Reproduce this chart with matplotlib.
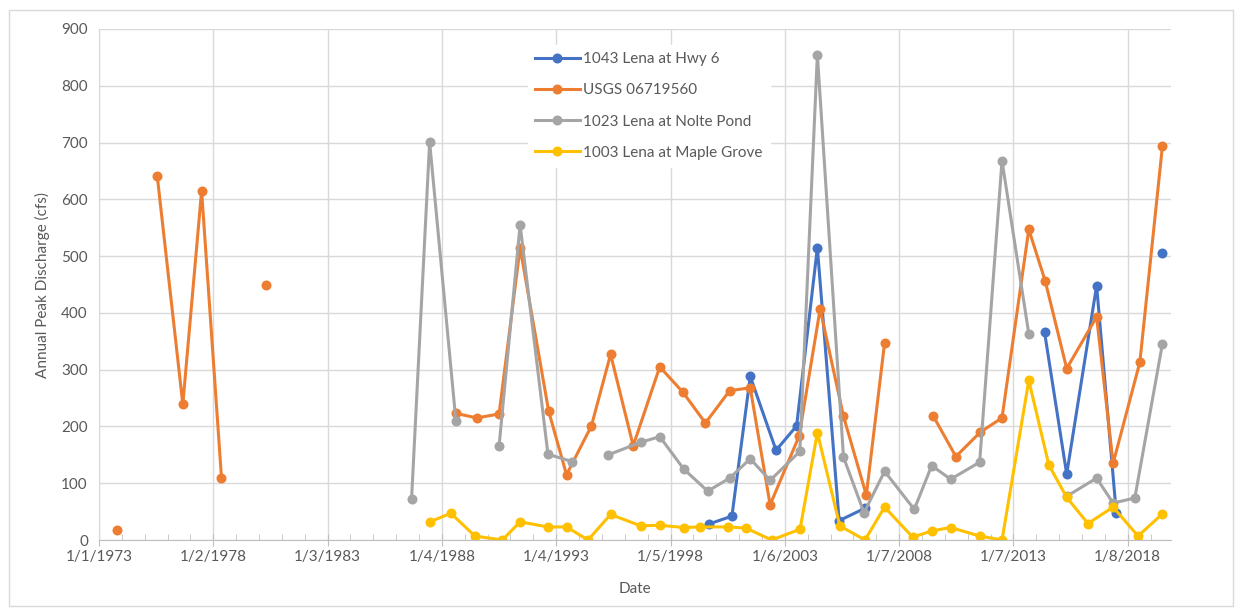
import numpy as np
import matplotlib
matplotlib.use("Agg")
import matplotlib.pyplot as plt
from matplotlib.patches import Rectangle
from datetime import datetime, timedelta

# decimal year of each annual peak, None = break in the line
hwy6_year = [1999.68, 2000.70, 2001.50, 2002.63, 2003.53, 2004.44, 2005.39, 2006.52, None,
             2014.38, 2015.35, 2016.66, 2017.52, None, 2019.54]
hwy6_cfs = [28, 42, 288, 158, 201, 515, 34, 56, None,
            366, 116, 448, 47, None, 506]

usgs_year = [1973.77, None, 1975.55, 1976.67, 1977.49, 1978.36, None, 1980.32, None,
             1988.62, 1989.54, 1990.51, 1991.43, 1992.68, 1993.46, 1994.55, 1995.39,
             1996.38, 1997.54, 1998.56, 1999.54, 2000.60, 2001.50, 2002.37, 2003.64,
             2004.56, 2005.58, 2006.58, 2007.38, None,
             2009.50, 2010.50, 2011.57, 2012.52, 2013.69, 2014.41, 2015.35, 2016.66,
             2017.38, 2018.55, 2019.54]
usgs_cfs = [17, None, 641, 239, 615, 110, None, 450, None,
            223, 215, 222, 515, 227, 115, 201, 327,
            166, 305, 260, 206, 263, 268, 62, 183,
            407, 218, 79, 347, None,
            219, 147, 190, 215, 547, 456, 302, 393,
            135, 313, 694]

nolte_year = [1986.68, 1987.47, 1988.62, None,
              1990.51, 1991.43, 1992.65, 1993.72, None,
              1995.29, 1996.70, 1997.54, 1998.59, 1999.64, 2000.60, 2001.50, 2002.37,
              2003.67, 2004.44, 2005.58, 2006.48, 2007.38, 2008.68, 2009.44, 2010.27,
              2011.54, 2012.52, 2013.69, None,
              2015.35, 2016.66, 2017.38, 2018.33, 2019.54]
nolte_cfs = [73, 701, 210, None,
             166, 555, 151, 138, None,
             150, 172, 182, 125, 86, 109, 143, 105,
             156, 855, 146, 48, 121, 54, 131, 107,
             137, 668, 363, None,
             77, 109, 65, 74, 346]

maple_year = [1987.47, 1988.40, 1989.45, 1990.65, 1991.43, 1992.65, 1993.46, 1994.40,
              1995.39, 1996.70, 1997.54, 1998.59, 1999.32, 2000.52, 2001.31, 2002.44,
              2003.68, 2004.44, 2005.42, 2006.52, 2007.38, 2008.61, 2009.44, 2010.27,
              2011.54, 2012.52, 2013.69, 2014.57, 2015.35, 2016.28, 2017.38, 2018.47,
              2019.54]
maple_cfs = [32, 47, 7, 0, 32, 23, 23, 0,
             45, 25, 26, 22, 23, 23, 21, 0,
             19, 189, 25, 0, 58, 5, 16, 22,
             7, 0, 281, 132, 75, 29, 58, 7,
             46]

series_names = ["1043 Lena at Hwy 6", "USGS 06719560",
                "1023 Lena at Nolte Pond", "1003 Lena at Maple Grove"]
colors = ["#4472C4", "#ED7D31", "#A5A5A5", "#FFC000"]


def to_date(y):
    return datetime(int(y), 1, 1) + timedelta(days=(y - int(y)) * 365.25)


def to_xy(years, vals):
    xs, ys = [], []
    last = to_date(years[0])
    for yr, v in zip(years, vals):
        if yr is None:
            xs.append(last)
            ys.append(np.nan)
        else:
            last = to_date(yr)
            xs.append(last)
            ys.append(v)
    return xs, ys


txt = "#595959"
plt.rcParams['font.family'] = ['Lato', 'DejaVu Sans']

fig = plt.figure(figsize=(12.44, 6.15), dpi=100)
fig.patches.append(Rectangle((9 / 1244, 1 - 606 / 615), 1224 / 1244, 596 / 615,
                             transform=fig.transFigure, fill=False,
                             edgecolor="#D9D9D9", lw=1))
ax = fig.add_axes([99 / 1244, 1 - 540 / 615, 1072 / 1244, 511 / 615])

data = [(hwy6_year, hwy6_cfs), (usgs_year, usgs_cfs),
        (nolte_year, nolte_cfs), (maple_year, maple_cfs)]
for (yrs, vals), name, c in zip(data, series_names, colors):
    xs, ys = to_xy(yrs, vals)
    ax.plot(xs, ys, color=c, lw=2.2, marker="o", markersize=7.2,
            markeredgewidth=0, label=name, solid_joinstyle="round")

start = datetime(1973, 1, 1)
ax.set_xlim(start, start + timedelta(days=17135))
ax.set_ylim(0, 900)
ax.set_yticks(np.arange(0, 901, 100))

major = [start + timedelta(days=1827 * k) for k in range(10)]
minor = [start + timedelta(days=365.4 * k) for k in range(47)]
ax.set_xticks(major)
ax.set_xticklabels([f"{d.month}/{d.day}/{d.year}" for d in major])
ax.set_xticks(minor, minor=True)

ax.grid(True, which="major", color="#D9D9D9", lw=1)
ax.set_axisbelow(True)
for s in ["top", "right"]:
    ax.spines[s].set_visible(False)
ax.spines["left"].set_color("#D9D9D9")
ax.spines["bottom"].set_color("#BFBFBF")
ax.tick_params(axis="y", length=0, labelsize=11, labelcolor=txt, pad=8)
ax.tick_params(axis="x", which="major", direction="inout", length=8,
               color="#BFBFBF", labelsize=11, labelcolor=txt, pad=3)
ax.tick_params(axis="x", which="minor", direction="in", length=4, color="#BFBFBF")

ax.set_xlabel("Date", color=txt, fontsize=11, labelpad=13)
ax.set_ylabel("Annual Peak Discharge (cfs)", color=txt, fontsize=11, labelpad=8)

leg = ax.legend(loc="upper left", bbox_to_anchor=(520 / 1244, 1 - 37 / 615),
                bbox_transform=fig.transFigure, frameon=True, fancybox=False,
                edgecolor="white", facecolor="white", framealpha=1,
                fontsize=11, labelcolor=txt, handlelength=2.9,
                handletextpad=0.25, labelspacing=1.12, borderpad=0.5)

fig.savefig("out.png", dpi=100)
